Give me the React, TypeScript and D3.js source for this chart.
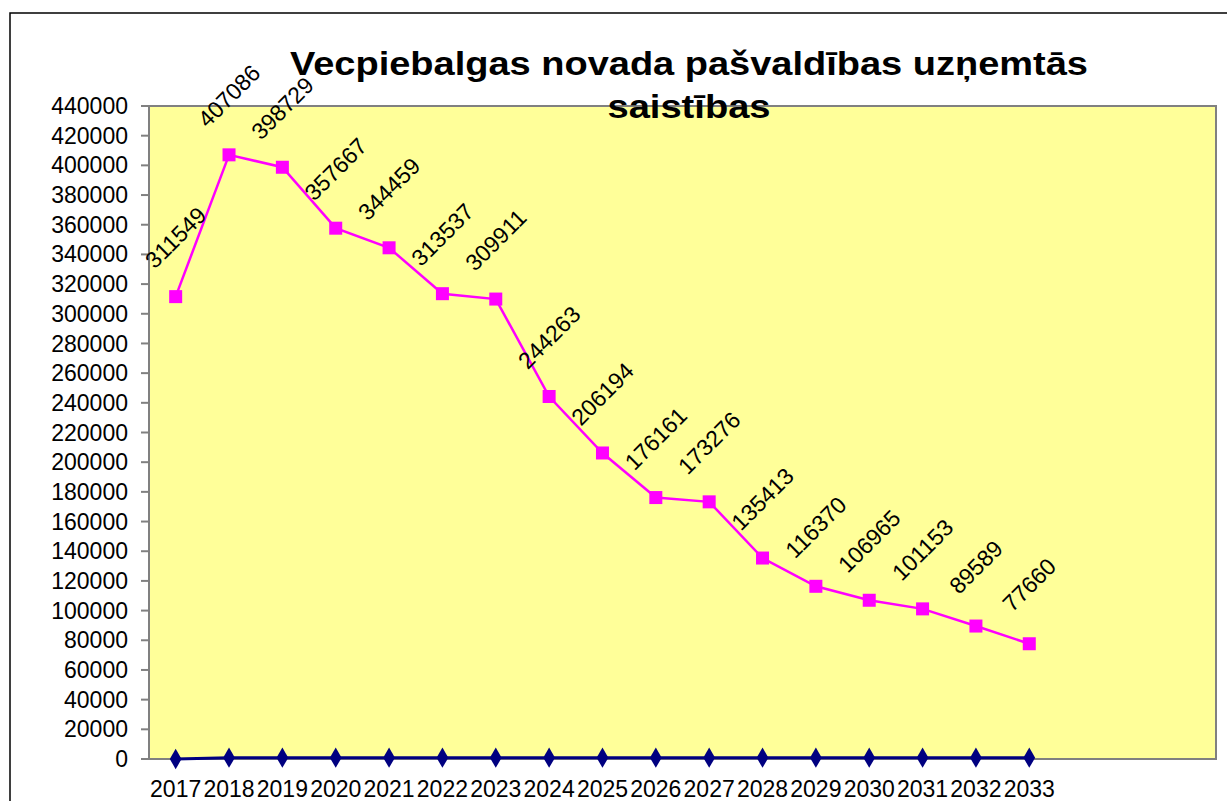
import React from "react";
import * as d3 from "d3";

// chart data
const years = ["2017", "2018", "2019", "2020", "2021", "2022", "2023", "2024", "2025", "2026", "2027", "2028", "2029", "2030", "2031", "2032", "2033"];
const saistibas = [311549, 407086, 398729, 357667, 344459, 313537, 309911, 244263, 206194, 176161, 173276, 135413, 116370, 106965, 101153, 89589, 77660];
const otherSeries = [0, 900, 900, 900, 900, 900, 900, 900, 900, 900, 900, 900, 900, 900, 900, 900, 900];
const emptySlots = ["", "", ""];
const yTicks = [0, 20000, 40000, 60000, 80000, 100000, 120000, 140000, 160000, 180000, 200000, 220000, 240000, 260000, 280000, 300000, 320000, 340000, 360000, 380000, 400000, 420000, 440000];
const titleLines = ["Vecpiebalgas novada pašvaldības uzņemtās", "saistības"];
const titleWidths = [798, 163];

const W = 1227;
const H = 801;
const FONT = "'Liberation Sans', Arial, sans-serif";

const App: React.FC = () => {
  const slots = [...years, ...emptySlots].map((_, i) => String(i));
  const x = d3.scaleBand<string>().domain(slots).range([149, 1216]);
  const cx = (i: number) => (x(String(i)) ?? 0) + x.bandwidth() / 2;
  const y = d3.scaleLinear().domain([0, 440000]).range([759, 106]);

  const line = d3
    .line<number>()
    .x((_, i) => cx(i))
    .y((d) => y(d));

  const diamond = d3.symbol().type(d3.symbolDiamond).size(120)()!;

  return (
    <svg
      width={W}
      height={H}
      style={{ position: "absolute", left: 0, top: 0, background: "#fff" }}
      fontFamily={FONT}
    >
      <rect x={10} y={13} width={1240} height={800} fill="#fff" stroke="#000" strokeWidth={1.5} />

      {/* plot area */}
      <rect x={149} y={106} width={1067} height={653} fill="#FFFF99" stroke="#808080" strokeWidth={2} />

      {/* y axis */}
      <line x1={149} x2={149} y1={106} y2={759} stroke="#808080" strokeWidth={2} />
      {yTicks.map((t) => (
        <g key={t}>
          <line x1={141} x2={149} y1={y(t)} y2={y(t)} stroke="#808080" strokeWidth={2} />
          <text x={128} y={y(t)} dy="0.35em" textAnchor="end" fontSize={23} fill="#000">
            {d3.format("d")(t)}
          </text>
        </g>
      ))}

      {/* x axis */}
      <line x1={149} x2={1216} y1={759} y2={759} stroke="#808080" strokeWidth={2} />
      {years.map((yr, i) => (
        <text key={yr} x={cx(i)} y={797} textAnchor="middle" fontSize={23} fill="#000">
          {yr}
        </text>
      ))}

      {/* near-zero series */}
      <path d={line(otherSeries) ?? ""} fill="none" stroke="#000080" strokeWidth={3} />
      {otherSeries.map((v, i) => (
        <path key={i} d={diamond} transform={`translate(${cx(i)},${y(v)})`} fill="#000080" />
      ))}

      {/* main series */}
      <path d={line(saistibas) ?? ""} fill="none" stroke="#FF00FF" strokeWidth={2.5} />
      {saistibas.map((v, i) => (
        <rect key={i} x={cx(i) - 6.5} y={y(v) - 6.5} width={13} height={13} fill="#FF00FF" />
      ))}

      {/* data labels */}
      {saistibas.map((v, i) => (
        <text
          key={i}
          transform={`translate(${cx(i)},${y(v) - 59}) rotate(-45)`}
          textAnchor="middle"
          dy="0.35em"
          fontSize={23}
          fill="#000"
        >
          {v}
        </text>
      ))}

      {/* title, drawn over the plot area */}
      {titleLines.map((t, i) => (
        <text
          key={i}
          x={689 - titleWidths[i] / 2}
          y={75 + i * 43}
          textLength={titleWidths[i]}
          lengthAdjust="spacingAndGlyphs"
          fontSize={34}
          fontWeight="bold"
          fill="#000"
        >
          {t}
        </text>
      ))}
    </svg>
  );
};

export default App;
